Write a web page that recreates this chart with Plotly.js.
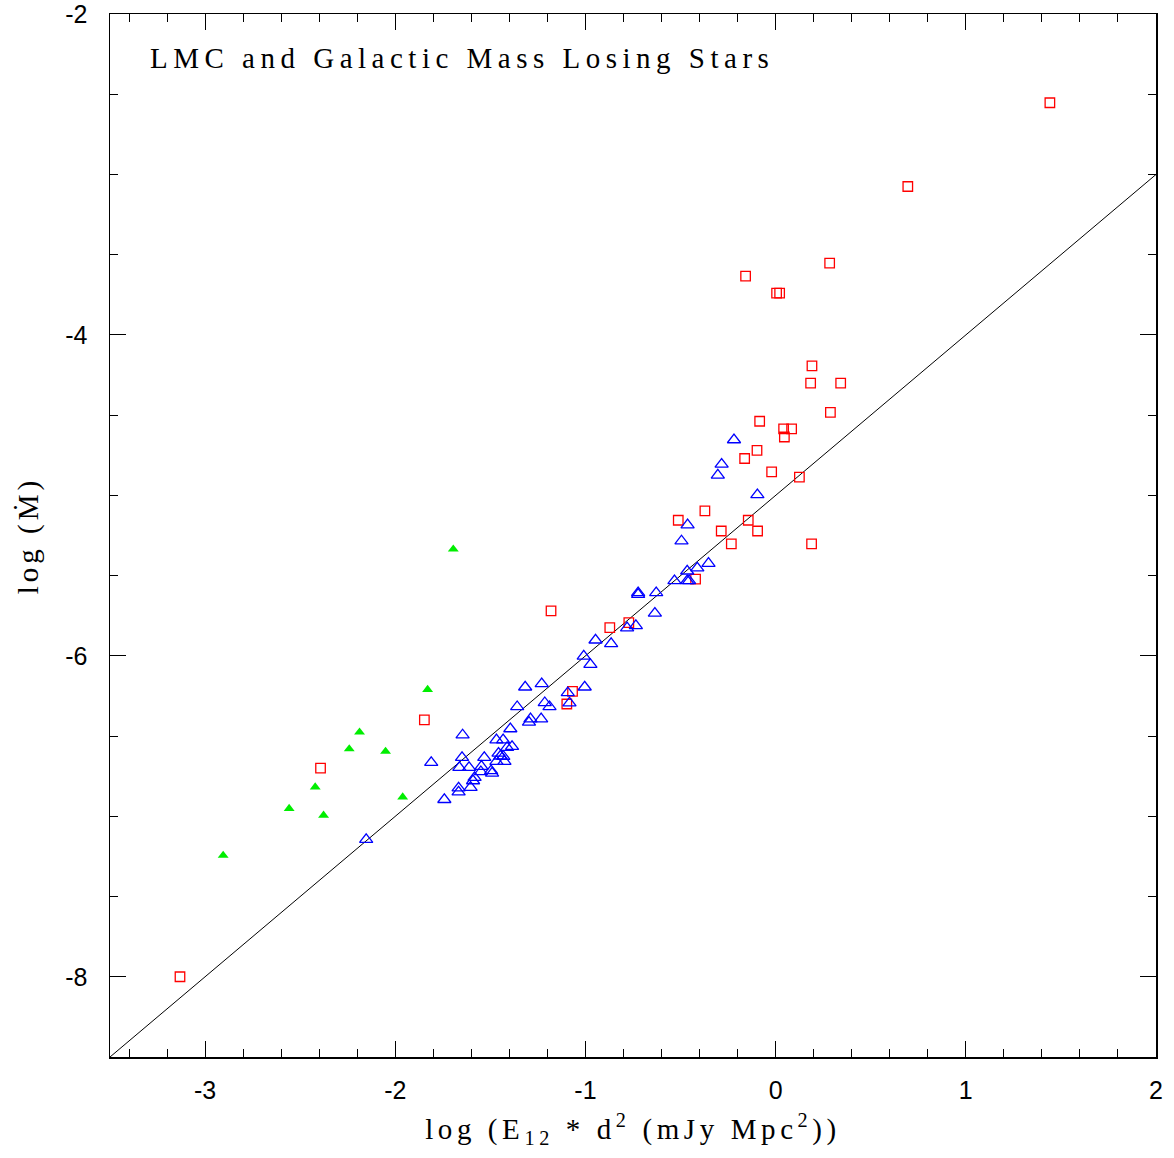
<!DOCTYPE html>
<html>
<head>
<meta charset="utf-8">
<script src="https://cdn.plot.ly/plotly-3.0.1.min.js"></script>
<style>
  html, body { margin: 0; padding: 0; background: #fff; }
  #chart { width: 1174px; height: 1158px; }
  .xtitle { letter-spacing: 4.6px; }
  .ytitle { letter-spacing: 4px; }
  .annotation-text { letter-spacing: 5.5px; }
</style>
</head>
<body>
<div id="chart"></div>
<script>
// Galactic mass losing stars (red open squares)
const redX = [1.442, 0.695, -0.158, 0.284, 0.005, 0.021, 0.191, 0.184, 0.342, 0.288,
  -0.084, 0.042, 0.084, 0.046, -0.098, -0.163, -0.021, 0.125, -0.372, -0.512,
  -0.144, -0.286, -0.095, -0.233, 0.189, -1.181, -0.421, -0.872, -0.772, -1.068,
  -1.098, -1.847, -2.393, -3.132];
const redY = [-2.553, -3.075, -3.634, -3.553, -3.739, -3.739, -4.193, -4.300, -4.300, -4.483,
  -4.538, -4.586, -4.586, -4.636, -4.720, -4.770, -4.853, -4.886, -5.097, -5.155,
  -5.155, -5.222, -5.222, -5.302, -5.302, -5.720, -5.522, -5.824, -5.793, -6.222,
  -6.300, -6.399, -6.700, -8.000];

// LMC stars (blue open triangles)
const blueX = [-0.219, -0.284, -0.304, -0.096, -0.463, -0.495, -0.353, -0.412, -0.465, -0.532,
  -0.465, -0.455, -0.628, -0.723, -0.723, -0.635, -0.781, -0.735, -0.947, -0.865,
  -1.009, -0.974, -1.317, -1.230, -1.004, -1.093, -1.084, -1.359, -1.214, -1.189,
  -1.289, -1.297, -1.233, -1.395, -1.646, -1.468, -1.433, -1.412, -1.386, -1.457,
  -1.447, -1.432, -1.426, -1.468, -1.532, -1.649, -1.811, -1.663, -1.612, -1.547,
  -1.496, -1.491, -1.550, -1.583, -1.591, -1.604, -1.667, -1.667, -1.742, -2.153];
const blueY = [-4.654, -4.806, -4.874, -4.996, -5.184, -5.284, -5.424, -5.453, -5.472, -5.532,
  -5.532, -5.532, -5.607, -5.607, -5.617, -5.735, -5.826, -5.812, -5.902, -5.924,
  -6.002, -6.054, -6.195, -6.174, -6.195, -6.230, -6.294, -6.317, -6.292, -6.317,
  -6.393, -6.414, -6.393, -6.455, -6.493, -6.524, -6.524, -6.571, -6.565, -6.607,
  -6.625, -6.627, -6.658, -6.658, -6.634, -6.634, -6.665, -6.696, -6.696, -6.689,
  -6.716, -6.731, -6.722, -6.758, -6.779, -6.820, -6.824, -6.849, -6.896, -7.145];

// Other stars (green filled triangles)
const greenX = [-1.695, -1.830, -2.188, -2.242, -2.051, -2.421, -1.961, -2.558, -2.377, -2.905];
const greenY = [-5.335, -6.210, -6.476, -6.580, -6.596, -6.818, -6.880, -6.952, -6.994, -7.244];

// Reference relation: log Mdot = slope * x + intercept, over the x range
const lineXRange = [-3.5, 2];
const slope = 1.0;
const intercept = -5.0;
const lineY = lineXRange.map(x => slope * x + intercept);

const xTickVals = [-3, -2, -1, 0, 1, 2];
const yTickVals = [-8, -6, -4, -2];

const traces = [
  { x: lineXRange, y: lineY, mode: 'lines', type: 'scatter',
    line: { color: '#000', width: 1 }, hoverinfo: 'skip' },
  { x: redX, y: redY, mode: 'markers', type: 'scatter',
    marker: { symbol: 'square-open', size: 9.5, color: '#ff0000', line: { width: 1.3, color: '#ff0000' } } },
  { x: blueX, y: blueY, mode: 'markers', type: 'scatter',
    marker: { symbol: 'triangle-up-open', size: 11.5, color: '#0000ff', line: { width: 1.3, color: '#0000ff' } } },
  { x: greenX, y: greenY, mode: 'markers', type: 'scatter',
    marker: { symbol: 'triangle-up', size: 9.5, color: '#00ee00', line: { width: 0 } } }
];

const axisCommon = {
  showgrid: false, zeroline: false, showline: true, linecolor: '#000', linewidth: 1.5,
  mirror: 'allticks', ticks: 'inside', tickcolor: '#000', tickwidth: 1, ticklen: 16,
  ticklabeloverflow: 'allow',
  tickfont: { family: 'Liberation Sans, Arial, sans-serif', size: 25, color: '#000' }
};

const layout = {
  width: 1174, height: 1158,
  margin: { l: 110, r: 18, t: 14, b: 101 },
  paper_bgcolor: '#fff', plot_bgcolor: '#fff',
  showlegend: false,
  xaxis: Object.assign({}, axisCommon, {
    range: [-3.5, 2], tickmode: 'array', tickvals: xTickVals, ticktext: xTickVals.map(String),
    ticklabelstandoff: 10,
    minor: { dtick: 0.2, tick0: 0, ticks: 'inside', ticklen: 8, tickcolor: '#000', tickwidth: 1, showgrid: false },
    title: { text: 'log (E<sub>12</sub> * d<sup>2</sup> (mJy Mpc<sup>2</sup>))',
      font: { family: 'Liberation Serif, Times New Roman, serif', size: 29, color: '#000' }, standoff: 16 }
  }),
  yaxis: Object.assign({}, axisCommon, {
    range: [-8.5, -1.9999], tickmode: 'array', tickvals: yTickVals, ticktext: yTickVals.map(String),
    ticklabelstandoff: 16,
    minor: { dtick: 0.5, tick0: 0, ticks: 'inside', ticklen: 8, tickcolor: '#000', tickwidth: 1, showgrid: false },
    title: { text: 'log (Ṁ)',
      font: { family: 'Liberation Serif, Times New Roman, serif', size: 29, color: '#000' }, standoff: 18 }
  }),
  annotations: [{
    text: 'LMC and Galactic Mass Losing Stars', xref: 'paper', yref: 'paper',
    x: 0.036, y: 0.958, xanchor: 'left', yanchor: 'middle', showarrow: false,
    font: { family: 'Liberation Serif, Times New Roman, serif', size: 29, color: '#000' }
  }]
};

Plotly.newPlot('chart', traces, layout, { displayModeBar: false, staticPlot: true });
</script>
</body>
</html>
